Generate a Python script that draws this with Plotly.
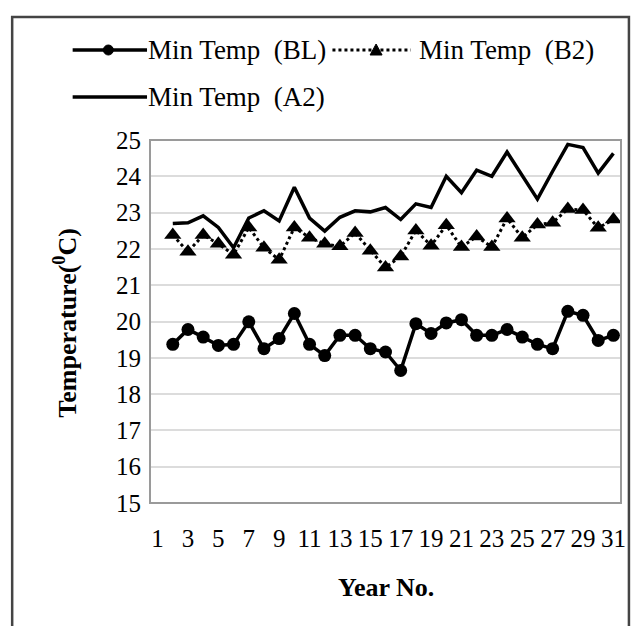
import plotly.graph_objects as go

years = list(range(2, 32))
bl = [19.37, 19.78, 19.57, 19.34, 19.37, 19.99, 19.25, 19.53, 20.22, 19.37,
      19.06, 19.62, 19.62, 19.25, 19.16, 18.65, 19.94, 19.67, 19.96, 20.05,
      19.62, 19.62, 19.78, 19.57, 19.37, 19.25, 20.28, 20.17, 19.48, 19.62]
b2 = [22.38, 21.92, 22.38, 22.14, 21.84, 22.59, 22.03, 21.70, 22.59, 22.31,
      22.14, 22.07, 22.44, 21.95, 21.49, 21.79, 22.51, 22.09, 22.65, 22.05,
      22.34, 22.05, 22.84, 22.31, 22.67, 22.72, 23.10, 23.07, 22.58, 22.81]
a2 = [22.70, 22.72, 22.91, 22.59, 22.03, 22.85, 23.05, 22.77, 23.70, 22.85,
      22.49, 22.87, 23.05, 23.02, 23.14, 22.81, 23.24, 23.14, 24.00, 23.55,
      24.17, 24.00, 24.67, 24.02, 23.37, 24.14, 24.88, 24.79, 24.09, 24.63]
x_ticks = list(range(1, 32, 2))
y_ticks = list(range(15, 26))
names = ["Min Temp\u00a0\u00a0(BL)", "Min Temp\u00a0\u00a0(B2)", "Min Temp\u00a0\u00a0(A2)"]

FONT = "Liberation Serif"
W, H = 638, 626
L, R, T, B = 150, 625, 140, 503

def px(x):
    return (x - L) / (R - L)

def py(y):
    return (B - y) / (B - T)

fig = go.Figure()
fig.add_trace(go.Scatter(x=years, y=a2, mode="lines", name=names[2],
                         line=dict(color="black", width=3.5)))
fig.add_trace(go.Scatter(x=years, y=b2, mode="lines+markers", name=names[1],
                         line=dict(color="black", width=3, dash="dot"),
                         marker=dict(symbol="triangle-up", size=15, color="black")))
fig.add_trace(go.Scatter(x=years, y=bl, mode="lines+markers", name=names[0],
                         line=dict(color="black", width=3.5),
                         marker=dict(symbol="circle", size=13, color="black")))

shapes = []
shapes.append(dict(type="rect", xref="paper", yref="paper",
                   x0=px(11), x1=px(633), y0=py(660), y1=py(17),
                   line=dict(color="#444444", width=2.5), layer="below"))
shapes.append(dict(type="rect", xref="paper", yref="paper",
                   x0=0, x1=1, y0=0, y1=1,
                   line=dict(color="#9a9a9a", width=2)))
r1, r2 = 50, 97
shapes.append(dict(type="line", xref="paper", yref="paper",
                   x0=px(72), x1=px(147), y0=py(r1), y1=py(r1),
                   line=dict(color="black", width=3.5)))
shapes.append(dict(type="circle", xref="paper", yref="paper",
                   xsizemode="pixel", ysizemode="pixel",
                   xanchor=px(108), yanchor=py(r1),
                   x0=-5, x1=5, y0=-5, y1=5,
                   fillcolor="black", line=dict(color="black", width=1)))
shapes.append(dict(type="line", xref="paper", yref="paper",
                   x0=px(334), x1=px(413), y0=py(r1), y1=py(r1),
                   line=dict(color="black", width=3, dash="dot")))
shapes.append(dict(type="path", xref="paper", yref="paper",
                   xsizemode="pixel", ysizemode="pixel",
                   xanchor=px(378), yanchor=py(r1),
                   path="M -6 -5 L 6 -5 L 0 6 Z",
                   fillcolor="black", line=dict(color="black", width=1)))
shapes.append(dict(type="line", xref="paper", yref="paper",
                   x0=px(72), x1=px(147), y0=py(r2), y1=py(r2),
                   line=dict(color="black", width=3.5)))

LEG = 27
annotations = [
    dict(text=names[0], x=px(146), y=py(r1), xref="paper", yref="paper",
         xanchor="left", yanchor="middle", showarrow=False,
         font=dict(family=FONT, size=LEG, color="black")),
    dict(text=names[1], x=px(419), y=py(r1), xref="paper", yref="paper",
         xanchor="left", yanchor="middle", showarrow=False,
         font=dict(family=FONT, size=LEG, color="black")),
    dict(text=names[2], x=px(146), y=py(r2), xref="paper", yref="paper",
         xanchor="left", yanchor="middle", showarrow=False,
         font=dict(family=FONT, size=LEG, color="black")),
    dict(text="<b>Year No.</b>", x=px(388), y=py(587), xref="paper", yref="paper",
         xanchor="center", yanchor="middle", showarrow=False,
         font=dict(family=FONT, size=26, color="black")),
    dict(text="<b>Temperature(<sup>0</sup>C)</b>", x=px(64), y=py(323),
         xref="paper", yref="paper", textangle=-90,
         xanchor="center", yanchor="middle", showarrow=False,
         font=dict(family=FONT, size=26, color="black")),
]

fig.update_layout(
    width=W, height=H,
    margin=dict(l=L, r=W - R, t=T, b=H - B),
    paper_bgcolor="white", plot_bgcolor="white",
    showlegend=False,
    shapes=shapes, annotations=annotations,
    font=dict(family=FONT, size=25, color="black"),
)
fig.update_xaxes(range=[0.5, 31.5], tickmode="array", tickvals=x_ticks,
                 ticktext=[str(v) for v in x_ticks], showgrid=False,
                 zeroline=False, showline=False, ticks="",
                 ticklabelstandoff=18,
                 tickfont=dict(family=FONT, size=25, color="black"))
fig.update_yaxes(range=[15, 25], tickmode="array", tickvals=y_ticks,
                 showgrid=True, gridcolor="#dcdcdc", gridwidth=1.5,
                 zeroline=False, showline=False, ticks="",
                 ticklabelstandoff=8,
                 tickfont=dict(family=FONT, size=25, color="black"))

fig.write_html("out.html")
